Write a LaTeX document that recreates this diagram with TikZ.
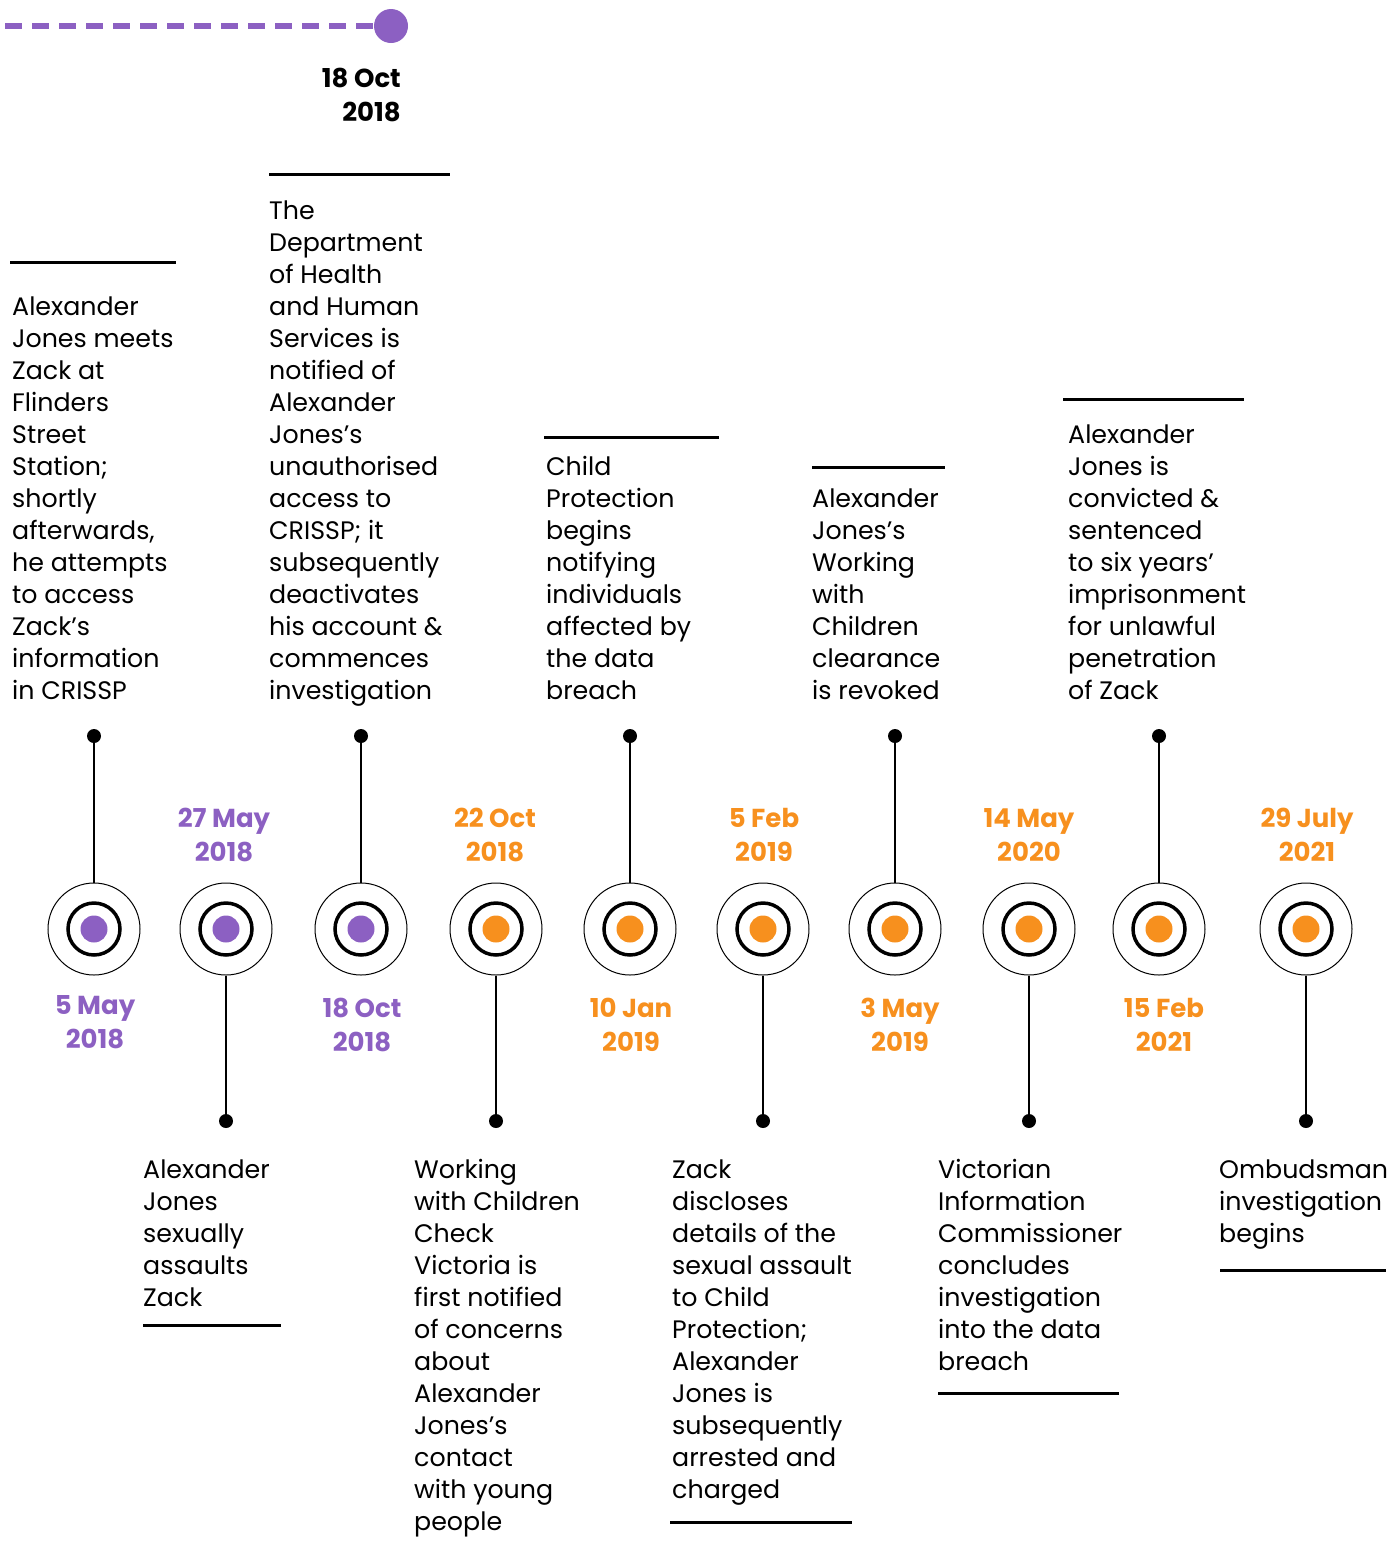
\documentclass[tikz,border=0pt]{standalone}
\usepackage{fontspec}
\setmainfont{Poppins}
\definecolor{evpurple}{HTML}{8C60C2}
\definecolor{evorange}{HTML}{F7901E}
\tikzset{
  evtext/.style={font=\fontsize{25.3}{32}\selectfont, align=left, inner sep=0pt, text=black},
  datelbl/.style={font=\bfseries\fontsize{26}{34}\selectfont, align=center, inner sep=0pt, anchor=north},
  bar/.style={line width=3pt},
  stem/.style={line width=2pt},
  enddot/.style={circle, fill=black, inner sep=0pt, minimum size=14pt},
  outerring/.style={circle, draw=black, line width=1pt, inner sep=0pt, minimum size=92pt},
}
\begin{document}
\begin{tikzpicture}[x=1pt,y=-1pt]
\useasboundingbox (0,0) rectangle (1389,1551);

% top legend
\node[circle, fill=evpurple, inner sep=0pt, minimum size=34pt] (topdot) at (391,26) {};
\coordinate (dashstart) at (5,26);
\draw[evpurple, line width=5.5pt, dash pattern=on 17pt off 10pt] (dashstart) -- (topdot.west);
\node[font=\bfseries\fontsize{26}{34}\selectfont, align=right, inner sep=0pt, anchor=north east] (toplbl) at (401,63.2) {\strut 18 Oct\\2018};

% markers
\foreach \i/\x/\c in {1/94/evpurple,2/226/evpurple,3/361/evpurple,4/496/evorange,5/630/evorange,6/763/evorange,7/895/evorange,8/1029/evorange,9/1159/evorange,10/1306/evorange}{
  \node[outerring] (c\i) at (\x,929) {};
  \draw[line width=3.5pt] (\x,929) circle[radius=26pt];
  \fill[\c] (\x,929) circle[radius=13.5pt];
}

% stems up
\foreach \i in {1,3,5,7,9}{
  \path (c\i) ++(0,-193) node[enddot] (d\i) {};
  \draw[stem] (d\i) -- (c\i.north);
}
% stems down
\foreach \i in {2,4,6,8,10}{
  \path (c\i) ++(0,192) node[enddot] (d\i) {};
  \draw[stem] (c\i.south) -- (d\i);
}

% dates
\node[datelbl, text=evpurple] (t1) at (95,990.2) {\strut 5 May\\2018};
\node[datelbl, text=evpurple] (t2) at (224,803.2) {\strut 27 May\\2018};
\node[datelbl, text=evpurple] (t3) at (362,993.2) {\strut 18 Oct\\2018};
\node[datelbl, text=evorange] (t4) at (495,803.2) {\strut 22 Oct\\2018};
\node[datelbl, text=evorange] (t5) at (631,993.2) {\strut 10 Jan\\2019};
\node[datelbl, text=evorange] (t6) at (764,803.2) {\strut 5 Feb\\2019};
\node[datelbl, text=evorange] (t7) at (900,993.2) {\strut 3 May\\2019};
\node[datelbl, text=evorange] (t8) at (1029,803.2) {\strut 14 May\\2020};
\node[datelbl, text=evorange] (t9) at (1164,993.2) {\strut 15 Feb\\2021};
\node[datelbl, text=evorange] (t10) at (1307,803.2) {\strut 29 July\\2021};

% texts above
\node[evtext, anchor=south west] (e1) at (12,709.6) {Alexander\\Jones meets\\Zack at\\Flinders\\Street\\Station;\\shortly\\afterwards,\\he attempts\\to access\\Zack’s\\information\\in CRISSP\strut};
\draw[bar] (10,262) -- (176,262);
\node[evtext, anchor=south west] (e3) at (269,709.6) {The\\Department\\of Health\\and Human\\Services is\\notified of\\Alexander\\Jones’s\\unauthorised\\access to\\CRISSP; it\\subsequently\\deactivates\\his account \&\\commences\\investigation\strut};
\draw[bar] (269,174) -- (450,174);
\node[evtext, anchor=south west] (e5) at (546,709.6) {Child\\Protection\\begins\\notifying\\individuals\\affected by\\the data\\breach\strut};
\draw[bar] (544,437) -- (719,437);
\node[evtext, anchor=south west] (e7) at (812,709.6) {Alexander\\Jones’s\\Working\\with\\Children\\clearance\\is revoked\strut};
\draw[bar] (812,467) -- (945,467);
\node[evtext, anchor=south west] (e9) at (1068,709.6) {Alexander\\Jones is\\convicted \&\\sentenced\\to six years’\\imprisonment\\for unlawful\\penetration\\of Zack\strut};
\draw[bar] (1063,399) -- (1244,399);

% texts below
\node[evtext, anchor=north west] (e2) at (143,1155.6) {\strut Alexander\\Jones\\sexually\\assaults\\Zack};
\draw[bar] (143,1325) -- (281,1325);
\node[evtext, anchor=north west] (e4) at (414,1155.6) {\strut Working\\with Children\\Check\\Victoria is\\first notified\\of concerns\\about\\Alexander\\Jones’s\\contact\\with young\\people};
\node[evtext, anchor=north west] (e6) at (672,1155.6) {\strut Zack\\discloses\\details of the\\sexual assault\\to Child\\Protection;\\Alexander\\Jones is\\subsequently\\arrested and\\charged};
\draw[bar] (670,1522) -- (852,1522);
\node[evtext, anchor=north west] (e8) at (938,1155.6) {\strut Victorian\\Information\\Commissioner\\concludes\\investigation\\into the data\\breach};
\draw[bar] (938,1393) -- (1119,1393);
\node[evtext, anchor=north west] (e10) at (1219,1155.6) {\strut Ombudsman\\investigation\\begins};
\draw[bar] (1220,1270) -- (1386,1270);
\end{tikzpicture}
\end{document}
